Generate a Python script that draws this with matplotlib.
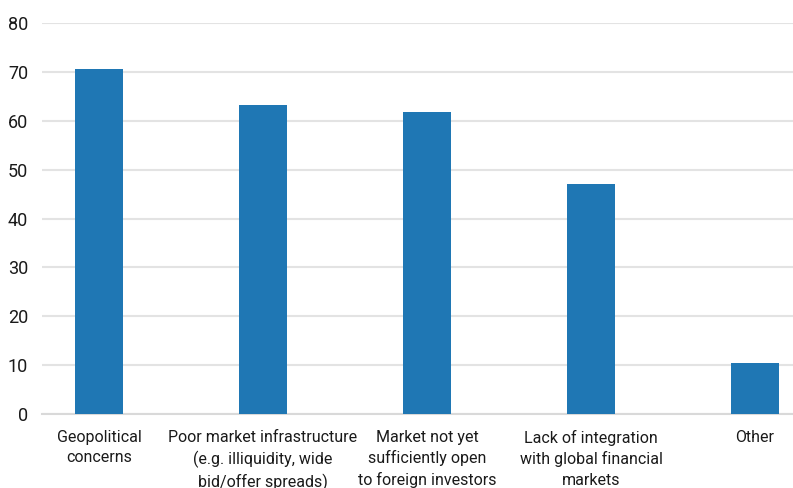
import matplotlib.pyplot as plt

# Survey shares by reason (percent of respondents)
reasons = [
    'Geopolitical\nconcerns',
    'Poor market infrastructure\n(e.g. illiquidity, wide\nbid/offer spreads)',
    'Market not yet\nsufficiently open\nto foreign investors',
    'Lack of integration\nwith global financial\nmarkets',
    'Other',
]
shares = [70.5, 63.2, 61.8, 47.1, 10.4]
yticks = [0, 10, 20, 30, 40, 50, 60, 70, 80]

plt.rcParams['font.family'] = ['Roboto', 'DejaVu Sans']
text_color = '#1a1a1a'
grid_color = '#e3e3e3'

fig = plt.figure(figsize=(7.93, 4.88), dpi=100)
ax = fig.add_axes([42 / 793, 73.7 / 488, 751 / 793, 391.6 / 488])

x = list(range(len(reasons)))
ax.bar(x, shares, width=0.29, color='#1f77b4', zorder=3)

ax.set_xlim(-0.348, 4.232)
ax.set_ylim(0, 80)
ax.set_yticks(yticks)
ax.set_yticklabels([str(t) for t in yticks])
ax.set_xticks(x)
ax.set_xticklabels(reasons, linespacing=1.45)

ax.grid(axis='y', color=grid_color, linewidth=1.5, zorder=0)
ax.tick_params(axis='y', length=0, pad=10, labelsize=13, labelcolor=text_color)
ax.tick_params(axis='x', length=0, pad=11, labelsize=11.5, labelcolor=text_color)

for side in ['top', 'right', 'left']:
    ax.spines[side].set_visible(False)
ax.spines['bottom'].set_color('#d9d9d9')
ax.spines['bottom'].set_linewidth(1.5)

fig.savefig('out.png', dpi=100)
